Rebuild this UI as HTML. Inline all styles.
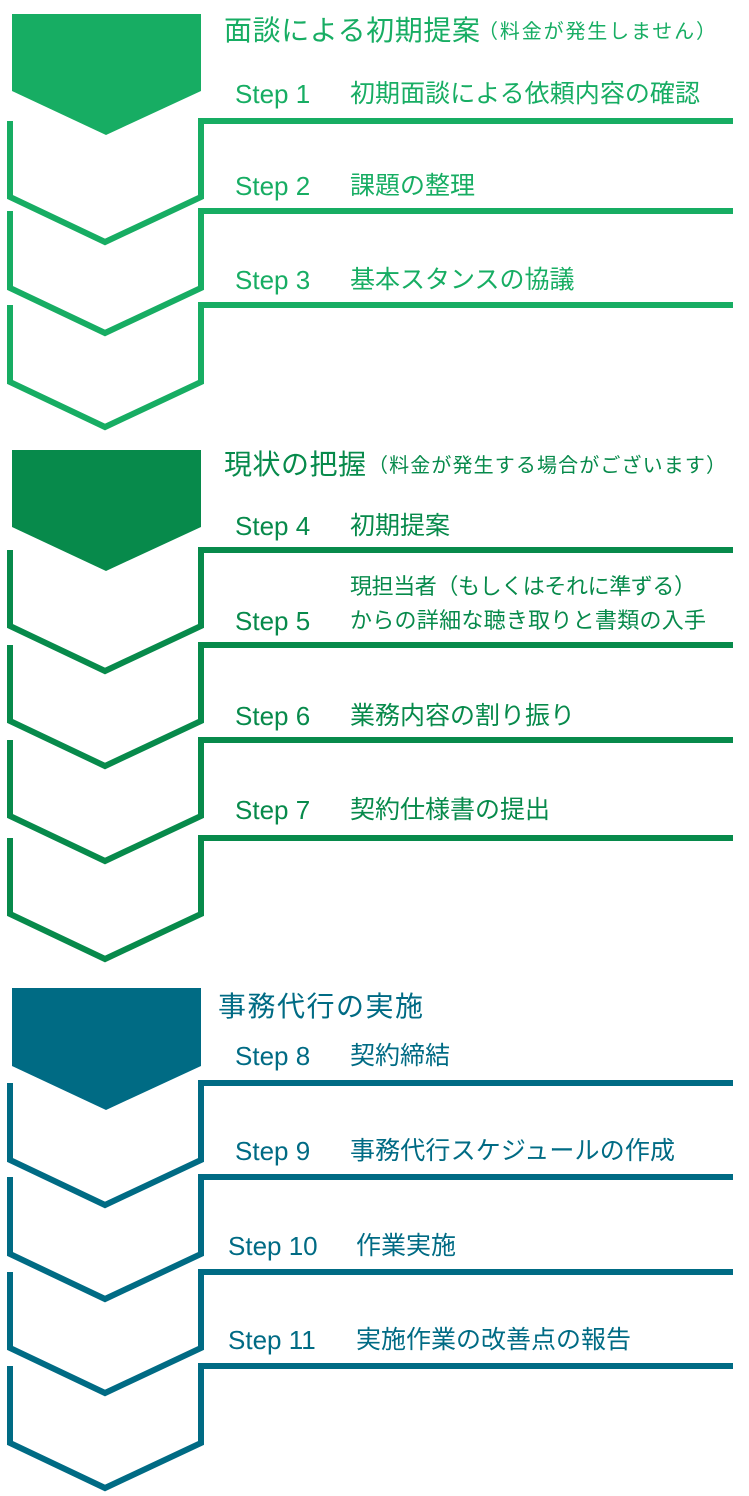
<!DOCTYPE html>
<html><head><meta charset="utf-8"><style>
html,body{margin:0;padding:0;background:#fff;}
svg{display:block;}
text{font-family:"Liberation Sans","Noto Sans CJK JP",sans-serif;}
</style></head><body>
<svg width="749" height="1496" viewBox="0 0 749 1496" xmlns="http://www.w3.org/2000/svg">
<!-- Section 1 -->
<g fill="none" stroke="#17ad63" stroke-width="6">
<polygon points="12,14 201,14 201,91 106,135 12,91" fill="#17ad63" stroke="none"/>
<polyline points="10,121 10,197 105,242 201,197 201,121 733,121"/>
<polyline points="10,211 10,288 105,333 201,288 201,211 733,211"/>
<polyline points="10,305 10,382 105,427 201,382 201,305 733,305"/>
</g>
<g fill="#17ad63">
<text x="224" y="40" font-size="28" textLength="256">面談による初期提案</text>
<text x="478" y="38" font-size="20" textLength="238">（料金が発生しません）</text>
<text x="235" y="103" font-size="26">Step 1</text><text x="350" y="102" font-size="25" textLength="350">初期面談による依頼内容の確認</text>
<text x="235" y="195" font-size="26">Step 2</text><text x="350" y="194" font-size="25">課題の整理</text>
<text x="235" y="289" font-size="26">Step 3</text><text x="350" y="288" font-size="25">基本スタンスの協議</text>
</g>
<!-- Section 2 -->
<g fill="none" stroke="#078a4b" stroke-width="6">
<polygon points="12,450 201,450 201,527 106,571 12,527" fill="#078a4b" stroke="none"/>
<polyline points="10,550 10,626 105,671 201,626 201,550 733,550"/>
<polyline points="10,645 10,721 105,766 201,721 201,645 733,645"/>
<polyline points="10,740 10,816 105,861 201,816 201,740 733,740"/>
<polyline points="10,838 10,914 105,959 201,914 201,838 733,838"/>
</g>
<g fill="#078a4b">
<text x="224" y="474" font-size="28" textLength="142">現状の把握</text>
<text x="368" y="472" font-size="20" textLength="358">（料金が発生する場合がございます）</text>
<text x="235" y="535" font-size="26">Step 4</text><text x="350" y="534" font-size="25">初期提案</text>
<text x="350" y="594" font-size="22" textLength="346">現担当者（もしくはそれに準ずる）</text>
<text x="235" y="630" font-size="26">Step 5</text><text x="350" y="628" font-size="22" textLength="356">からの詳細な聴き取りと書類の入手</text>
<text x="235" y="725" font-size="26">Step 6</text><text x="350" y="724" font-size="25">業務内容の割り振り</text>
<text x="235" y="819" font-size="26">Step 7</text><text x="350" y="818" font-size="25">契約仕様書の提出</text>
</g>
<!-- Section 3 -->
<g fill="none" stroke="#006b84" stroke-width="6">
<polygon points="12,988 201,988 201,1066 106,1110 12,1066" fill="#006b84" stroke="none"/>
<polyline points="10,1083 10,1160 105,1205 201,1160 201,1083 733,1083"/>
<polyline points="10,1177 10,1254 105,1299 201,1254 201,1177 733,1177"/>
<polyline points="10,1272 10,1348 105,1393 201,1348 201,1272 733,1272"/>
<polyline points="10,1366 10,1443 105,1488 201,1443 201,1366 733,1366"/>
</g>
<g fill="#006b84">
<text x="218" y="1016" font-size="28" textLength="205">事務代行の実施</text>
<text x="235" y="1065" font-size="26">Step 8</text><text x="350" y="1064" font-size="25">契約締結</text>
<text x="235" y="1160" font-size="26">Step 9</text><text x="350" y="1159" font-size="25" textLength="325">事務代行スケジュールの作成</text>
<text x="228" y="1255" font-size="26">Step 10</text><text x="356" y="1254" font-size="25">作業実施</text>
<text x="228" y="1349" font-size="26">Step 11</text><text x="356" y="1348" font-size="25">実施作業の改善点の報告</text>
</g>
</svg>
</body></html>
